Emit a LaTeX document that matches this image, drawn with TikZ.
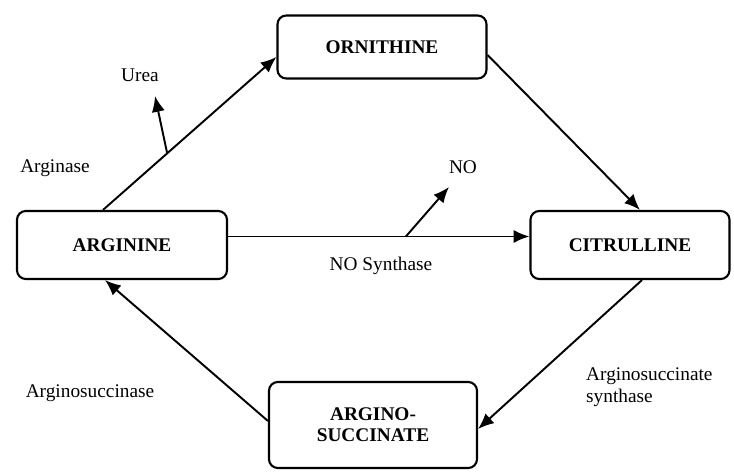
\documentclass[tikz,border=0pt]{standalone}
\usepackage{fontspec}
\setmainfont{Liberation Serif}
\usetikzlibrary{arrows.meta}
\usetikzlibrary{positioning}

\tikzset{
  box/.style={draw=black, line width=1.2pt, rounded corners=5pt, align=center, font=\fontsize{11}{12}\selectfont\bfseries},
  lbl/.style={font=\fontsize{11}{12.5}\selectfont, align=left},
  flow/.style={line width=1.1pt, -{Latex[length=9pt,width=7.5pt]}}
}

\begin{document}
\begin{tikzpicture}
\useasboundingbox (0,0) rectangle (14.68,9.44);
% boxes
\node[box, minimum width=4.18cm, minimum height=1.26cm] (orn) at (7.64,8.5) {ORNITHINE};
\node[box, minimum width=4.2cm, minimum height=1.36cm] (arg) at (2.44,4.54) {ARGININE};
\node[box, minimum width=3.98cm, minimum height=1.36cm] (cit) at (12.6,4.54) {CITRULLINE};
\node[box, minimum width=4.16cm, minimum height=1.72cm] (asu) at (7.46,0.94) {ARGINO-\\SUCCINATE};
% labels
\node[lbl] (urea) at (2.8,7.94) {Urea};
\node[lbl] (arginase) at (1.1,6.08) {Arginase};
\node[lbl] (no) at (9.26,6.1) {NO};
\node[lbl] (nosyn) at (7.62,4.12) {NO Synthase};
\node[lbl] (asucc) at (1.8,1.58) {Arginosuccinase};
\node[lbl, anchor=west] (assyn) at (11.6,1.7) {Arginosuccinate\\synthase};
\coordinate (ureatip) at (3.1,7.52);
\coordinate (notip) at (8.98,5.7);
% arrows
\draw[flow] ([xshift=-0.38cm]arg.north) -- coordinate[pos=0.37] (ureafrom) ([yshift=-0.2cm]orn.west);
\draw[flow] (ureafrom) -- (ureatip);
\draw[flow] ([yshift=-0.16cm]orn.east) -- ([xshift=0.2cm]cit.north);
\draw[flow] ([yshift=0.17cm]arg.east) -- coordinate[pos=0.59] (nofrom) ([yshift=0.17cm]cit.west);
\draw[flow] (nofrom) -- (notip);
\draw[flow] ([xshift=0.24cm]cit.south) -- ([yshift=-0.08cm]asu.east);
\draw[flow] ([yshift=0.08cm]asu.west) -- ([xshift=-0.34cm]arg.south);
\end{tikzpicture}
\end{document}
